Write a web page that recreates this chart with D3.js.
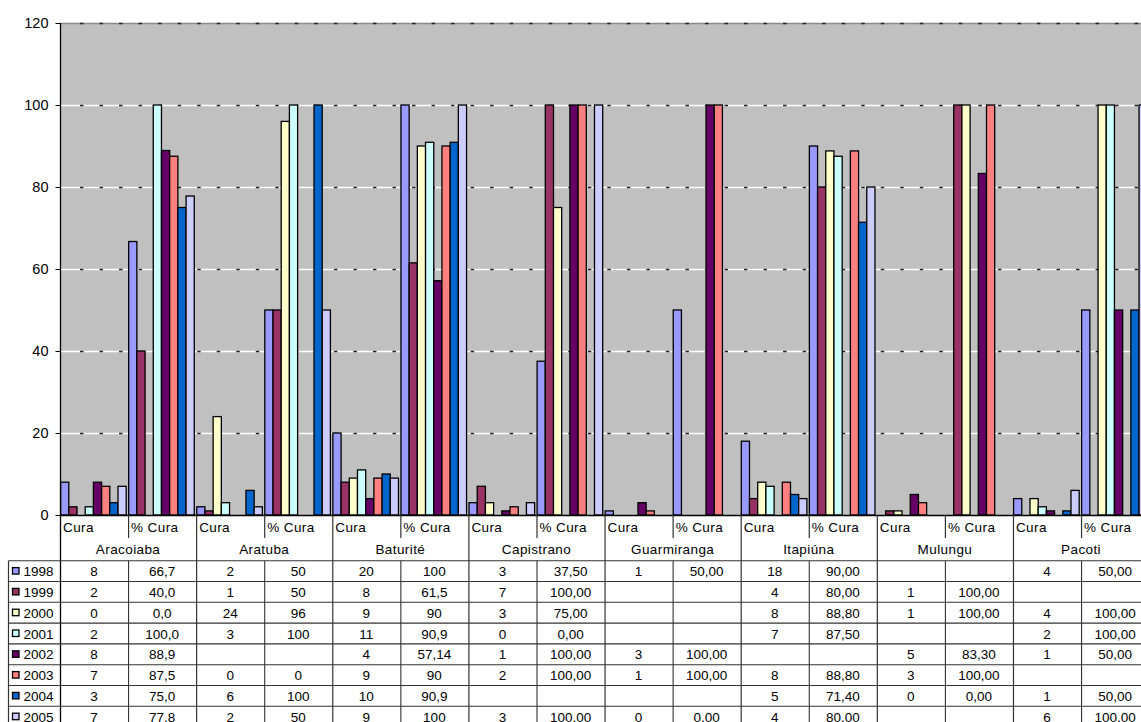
<!DOCTYPE html>
<html>
<head>
<meta charset="utf-8">
<script src="https://cdn.jsdelivr.net/npm/d3@7"></script>
<style>
  html, body { margin: 0; padding: 0; background: #ffffff; }
  svg { display: block; }
</style>
</head>
<body>
<div id="chart"></div>
<script>
// Municipalities and the two measures shown for each of them
const municipios = ["Aracoiaba", "Aratuba", "Baturité", "Capistrano", "Guarmiranga", "Itapiúna", "Mulungu", "Pacoti"];
const medidas = ["Cura", "% Cura"];
const anos = ["1998", "1999", "2000", "2001", "2002", "2003", "2004", "2005"];
const yTicks = [0, 20, 40, 60, 80, 100, 120];

// One row per year: Cura / % Cura for each municipality, as written in the table ("" = no data)
const v1998 = ["8", "66,7", "2", "50", "20", "100", "3", "37,50", "1", "50,00", "18", "90,00", "", "", "4", "50,00"];
const v1999 = ["2", "40,0", "1", "50", "8", "61,5", "7", "100,00", "", "", "4", "80,00", "1", "100,00", "", ""];
const v2000 = ["0", "0,0", "24", "96", "9", "90", "3", "75,00", "", "", "8", "88,80", "1", "100,00", "4", "100,00"];
const v2001 = ["2", "100,0", "3", "100", "11", "90,9", "0", "0,00", "", "", "7", "87,50", "", "", "2", "100,00"];
const v2002 = ["8", "88,9", "", "", "4", "57,14", "1", "100,00", "3", "100,00", "", "", "5", "83,30", "1", "50,00"];
const v2003 = ["7", "87,5", "0", "0", "9", "90", "2", "100,00", "1", "100,00", "8", "88,80", "3", "100,00", "", ""];
const v2004 = ["3", "75,0", "6", "100", "10", "90,9", "", "", "", "", "5", "71,40", "0", "0,00", "1", "50,00"];
const v2005 = ["7", "77,8", "2", "50", "9", "100", "3", "100,00", "0", "0,00", "4", "80,00", "", "", "6", "100,00"];

const seriesRows = [v1998, v1999, v2000, v2001, v2002, v2003, v2004, v2005];
const cores = ["#9999FF", "#993366", "#FFFFCC", "#CCFFFF", "#660066", "#FF8080", "#0066CC", "#CCCCFF"];

const W = 1141, H = 722;
const plotLeft = 60, plotTop = 23, plotBottom = 515;
const catW = 68.07;
const nCat = municipios.length * medidas.length;
const plotRight = plotLeft + nCat * catW;
const FONT = '"Liberation Sans", Arial, sans-serif';

const toNum = s => s === "" ? null : +s.replace(",", ".");

const svg = d3.select("#chart").append("svg").attr("width", W).attr("height", H);

// Scales
const x = d3.scaleBand().domain(d3.range(nCat)).range([plotLeft, plotRight]).padding(0);
const xs = d3.scaleBand().domain(anos).range([0.6, 66.2]).padding(0);
const y = d3.scaleLinear().domain([0, 120]).range([plotBottom, plotTop]);

// Plot background
svg.append("rect")
  .attr("x", plotLeft).attr("y", plotTop)
  .attr("width", plotRight - plotLeft).attr("height", plotBottom - plotTop)
  .attr("fill", "#C0C0C0");

// Gridlines: light line with short dark dashes over it
const grid = svg.append("g");
yTicks.filter(t => t > 0).forEach(t => {
  const gy = Math.round(y(t)) + 0.5;
  grid.append("line")
    .attr("x1", plotLeft).attr("x2", plotRight).attr("y1", gy).attr("y2", gy)
    .attr("stroke", t === 120 ? "#8a8a8a" : "#ffffff").attr("stroke-width", 1.3);
  grid.append("line")
    .attr("x1", plotLeft + 20).attr("x2", plotRight).attr("y1", gy).attr("y2", gy)
    .attr("stroke", "#222222").attr("stroke-width", 1.5)
    .attr("stroke-dasharray", "3.5,16.03");
});

// Bars
const bars = svg.append("g");
seriesRows.forEach((row, si) => {
  row.forEach((s, ci) => {
    const v = toNum(s);
    if (v === null || v === 0) return;
    bars.append("rect")
      .attr("x", x(ci) + xs(anos[si]))
      .attr("y", y(v))
      .attr("width", xs.bandwidth())
      .attr("height", y(0) - y(v))
      .attr("fill", cores[si])
      .attr("stroke", "#000")
      .attr("stroke-width", 1.3);
  });
});

// Y axis
const yAxis = d3.axisLeft(y).tickValues(yTicks).tickSize(5).tickPadding(8);
const ga = svg.append("g").attr("transform", `translate(${plotLeft + 0.5},0)`).call(yAxis);
ga.attr("font-size", null).attr("font-family", null);
ga.select(".domain").remove();
ga.selectAll(".tick line").attr("stroke", "#000");
ga.selectAll(".tick text")
  .style("font-family", FONT).style("font-size", "14.5px").attr("fill", "#000")
  .attr("x", -12);
svg.append("line").attr("x1", plotLeft + 0.5).attr("x2", plotLeft + 0.5)
  .attr("y1", plotTop).attr("y2", H).attr("stroke", "#000").attr("stroke-width", 1.3);
svg.append("line").attr("x1", plotLeft).attr("x2", plotRight)
  .attr("y1", plotBottom + 0.5).attr("y2", plotBottom + 0.5).attr("stroke", "#000").attr("stroke-width", 1.3);

// Data table under the plot
const tbl = svg.append("g");
const tableTop = 560.7, rowH = 20.8, tableLeft = 8.5;
const lineCol = "#333333";
const numStyle = sel => sel.style("font-family", FONT).style("font-size", "13.5px").attr("fill", "#000");
const lblStyle = sel => sel.style("font-family", FONT).style("font-size", "13.5px")
  .style("letter-spacing", "0.4px").attr("fill", "#000");

// Header: measure labels and municipality names
for (let ci = 0; ci < nCat; ci++) {
  tbl.append("text").call(lblStyle)
    .attr("x", x(ci) + 3).attr("y", 532)
    .text(medidas[ci % 2]);
  if (ci % 2 === 1) {
    tbl.append("line")
      .attr("x1", x(ci) + 0.5).attr("x2", x(ci) + 0.5)
      .attr("y1", plotBottom).attr("y2", 538)
      .attr("stroke", lineCol).attr("stroke-width", 1.2);
  }
}
municipios.forEach((m, mi) => {
  const cx = x(mi * 2) + catW;
  tbl.append("text").call(lblStyle)
    .attr("x", cx).attr("y", 553.5).attr("text-anchor", "middle")
    .text(m);
  if (mi > 0) {
    tbl.append("line")
      .attr("x1", x(mi * 2) + 0.5).attr("x2", x(mi * 2) + 0.5)
      .attr("y1", plotBottom).attr("y2", H)
      .attr("stroke", lineCol).attr("stroke-width", 1.2);
  }
});

// Table grid
tbl.append("line").attr("x1", tableLeft).attr("x2", tableLeft)
  .attr("y1", tableTop).attr("y2", H).attr("stroke", lineCol).attr("stroke-width", 1.2);
for (let r = 0; r <= anos.length; r++) {
  const ly = tableTop + r * rowH;
  tbl.append("line").attr("x1", tableLeft).attr("x2", W)
    .attr("y1", ly).attr("y2", ly).attr("stroke", lineCol).attr("stroke-width", 1.1);
}
for (let ci = 1; ci < nCat; ci += 2) {
  tbl.append("line")
    .attr("x1", x(ci) + 0.5).attr("x2", x(ci) + 0.5)
    .attr("y1", tableTop).attr("y2", H)
    .attr("stroke", lineCol).attr("stroke-width", 1.1);
}

// Table rows: legend key, year and values
seriesRows.forEach((row, si) => {
  const cy = tableTop + si * rowH + rowH / 2;
  tbl.append("rect")
    .attr("x", 12.5).attr("y", cy - 3.5).attr("width", 6.5).attr("height", 6.5)
    .attr("fill", cores[si]).attr("stroke", "#000").attr("stroke-width", 1.3);
  tbl.append("text").call(numStyle)
    .attr("x", 23.5).attr("y", cy + 5).text(anos[si]);
  row.forEach((s, ci) => {
    if (s === "") return;
    tbl.append("text").call(numStyle)
      .attr("x", x(ci) + catW / 2).attr("y", cy + 5)
      .attr("text-anchor", "middle").text(s);
  });
});
</script>
</body>
</html>
